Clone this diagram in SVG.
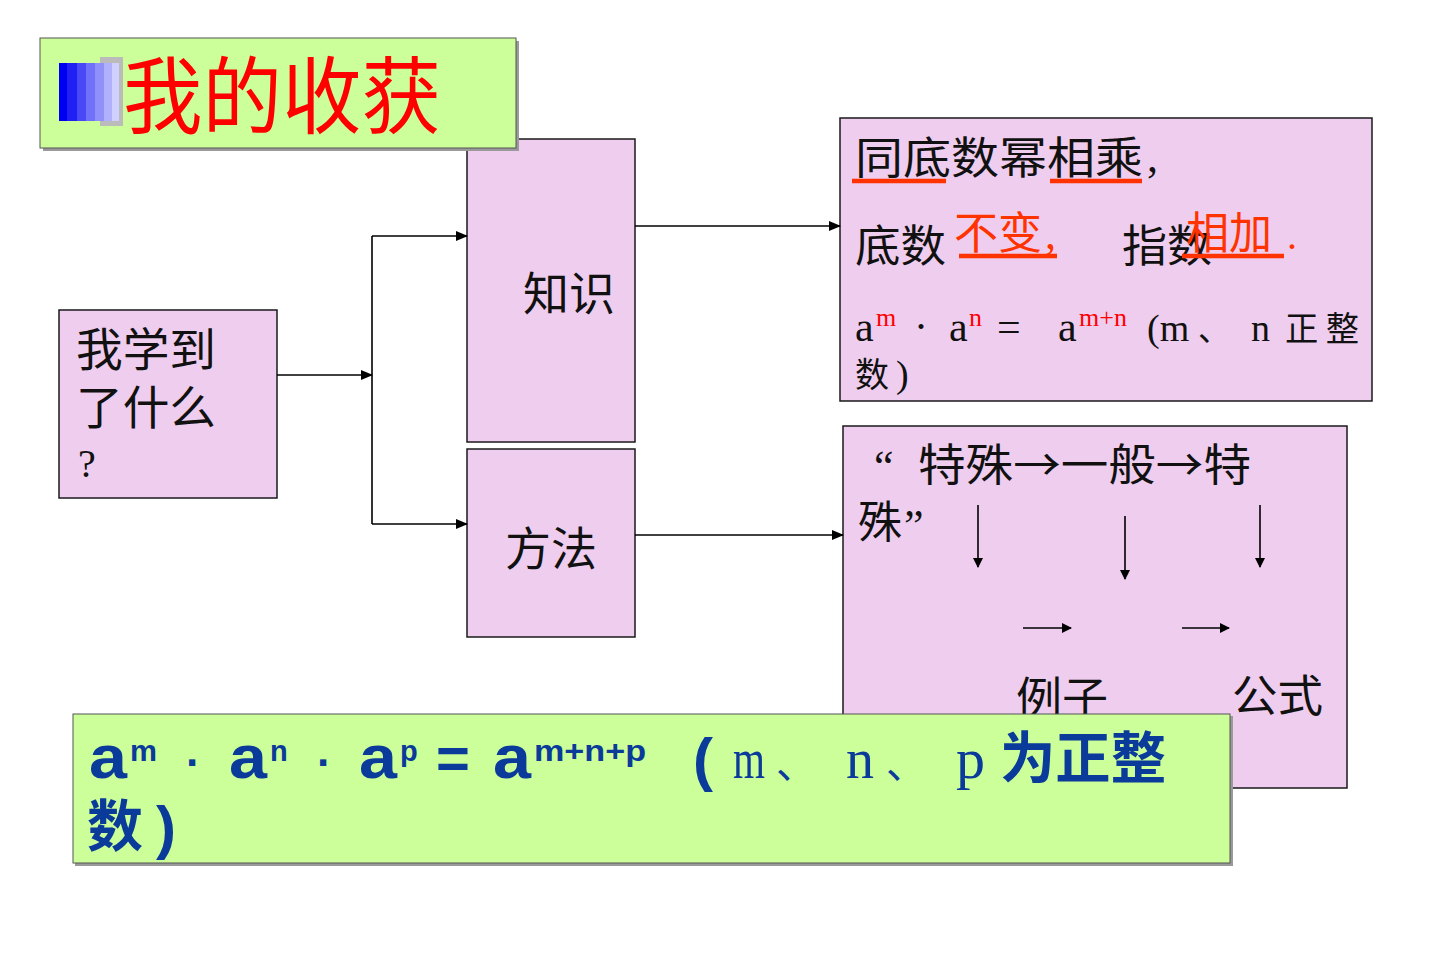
<svg xmlns="http://www.w3.org/2000/svg" width="1440" height="964" viewBox="0 0 1440 964">
<style>
.box{fill:#EFCDEE;stroke:#1a1a1a;stroke-width:1.5}
.green{fill:#CCFF99;stroke:#555;stroke-width:1}
.shadow{fill:#9a9a9a}
.cjk{font-family:"Noto Sans CJK SC",sans-serif;fill:#111}
.ser{font-family:"Liberation Serif","Noto Sans CJK SC",serif;fill:#111}
.red{fill:#FF3300}
.sup{font-family:"Liberation Serif",serif;fill:#FF0000;font-size:26px}
.blue{fill:#0A3A9A}
.bb{font-family:"Liberation Sans",Arial,sans-serif;font-weight:bold;fill:#0A3A9A}
.bm{font-family:"Liberation Serif",serif;fill:#0A3A9A}
.conn line,.conn path{stroke:#000;stroke-width:1.6;fill:none}
.ul{stroke:#FF3300;stroke-width:4.5}
</style>
<defs>
<marker id="ah" markerUnits="userSpaceOnUse" markerWidth="12" markerHeight="10" refX="11" refY="5" orient="auto"><path d="M0,0 L12,5 L0,10 z" fill="#000"/></marker>
<marker id="ah2" markerUnits="userSpaceOnUse" markerWidth="10" markerHeight="12" refX="9" refY="5" orient="auto"><path d="M0,0 L10,5 L0,10 z" fill="#000"/></marker>
<linearGradient id="bg" x1="0" y1="0" x2="1" y2="0">
<stop offset="0" stop-color="#0000F0"/><stop offset="0.14" stop-color="#0000F0"/>
<stop offset="0.14" stop-color="#2020F4"/><stop offset="0.3" stop-color="#2020F4"/>
<stop offset="0.3" stop-color="#4848F6"/><stop offset="0.45" stop-color="#4848F6"/>
<stop offset="0.45" stop-color="#7070F8"/><stop offset="0.6" stop-color="#7070F8"/>
<stop offset="0.6" stop-color="#9090FA"/><stop offset="0.75" stop-color="#9090FA"/>
<stop offset="0.75" stop-color="#B0B0FC"/><stop offset="0.88" stop-color="#B0B0FC"/>
<stop offset="0.88" stop-color="#D0D0FF"/><stop offset="1" stop-color="#D0D0FF"/>
</linearGradient>
</defs>
<rect width="1440" height="964" fill="#fff"/>

<g id="node-learned">
<rect class="box" x="59" y="310" width="218" height="188"/>
<text class="cjk" font-size="46" x="76" y="366" textLength="140" lengthAdjust="spacingAndGlyphs">我学到</text>
<text class="cjk" font-size="46" x="76" y="424" textLength="140" lengthAdjust="spacingAndGlyphs">了什么</text>
<text class="ser" font-size="40" x="78" y="477">?</text>
</g>

<g id="node-knowledge">
<rect class="box" x="467" y="139" width="168" height="303"/>
<text class="cjk" font-size="46" x="523" y="310" textLength="92" lengthAdjust="spacingAndGlyphs">知识</text>
</g>

<g id="node-method">
<rect class="box" x="467" y="449" width="168" height="188"/>
<text class="cjk" font-size="46" x="505" y="565" textLength="92" lengthAdjust="spacingAndGlyphs">方法</text>
</g>

<g id="node-rule">
<rect class="box" x="840" y="118" width="532" height="283"/>
<text class="cjk" font-size="44" x="855" y="174" textLength="288" lengthAdjust="spacingAndGlyphs">同底数幂相乘</text>
<text class="ser" font-size="44" x="1147" y="172">,</text>
<line class="ul" x1="852" y1="181" x2="946" y2="181"/>
<line class="ul" x1="1050" y1="181" x2="1142" y2="181"/>
<text class="cjk" font-size="44" x="855" y="262" textLength="91" lengthAdjust="spacingAndGlyphs">底数</text>
<text class="cjk red" font-size="44" x="954" y="249" textLength="88" lengthAdjust="spacingAndGlyphs">不变</text>
<text class="ser red" font-size="44" x="1045" y="249">,</text>
<line class="ul" x1="959" y1="256" x2="1057" y2="256"/>
<text class="cjk" font-size="44" x="1122" y="262" textLength="90" lengthAdjust="spacingAndGlyphs">指数</text>
<text class="cjk red" font-size="44" x="1186" y="249" textLength="86" lengthAdjust="spacingAndGlyphs">相加</text>
<text class="ser red" font-size="40" x="1287" y="249">.</text>
<line class="ul" x1="1182" y1="256" x2="1284" y2="256"/>
<text class="ser" font-size="42" x="855" y="341">a</text>
<text class="sup" x="876" y="326">m</text>
<text class="ser" font-size="42" x="914" y="341">·</text>
<text class="ser" font-size="42" x="949" y="341">a</text>
<text class="sup" x="969" y="326">n</text>
<text class="ser" font-size="42" x="997" y="341">=</text>
<text class="ser" font-size="42" x="1058" y="341">a</text>
<text class="sup" x="1079" y="326">m+n</text>
<text class="ser" font-size="38" x="1147" y="341">(m</text>
<text class="cjk" font-size="32" x="1198" y="341">、</text>
<text class="ser" font-size="38" x="1251" y="341">n</text>
<text class="cjk" font-size="34" x="1285" y="341" textLength="74" lengthAdjust="spacingAndGlyphs">正 整</text>
<text class="cjk" font-size="34" x="855" y="387">数</text>
<text class="ser" font-size="38" x="896" y="387">)</text>
</g>

<g id="node-process">
<rect class="box" x="843" y="426" width="504" height="362"/>
<text class="ser" font-size="44" x="874" y="481">“</text>
<text class="cjk" font-size="44" x="918" y="481" textLength="333" lengthAdjust="spacingAndGlyphs">特殊→一般→特</text>
<text class="cjk" font-size="44" x="858" y="538">殊</text>
<text class="ser" font-size="44" x="904" y="540">”</text>
<text class="cjk" font-size="44" x="1016" y="714" textLength="92" lengthAdjust="spacingAndGlyphs">例子</text>
<text class="cjk" font-size="44" x="1232" y="712" textLength="91" lengthAdjust="spacingAndGlyphs">公式</text>
</g>

<g id="connectors" class="conn">
<line x1="277" y1="375" x2="372" y2="375" marker-end="url(#ah)"/>
<line x1="372" y1="236" x2="372" y2="524"/>
<line x1="372" y1="236" x2="467" y2="236" marker-end="url(#ah)"/>
<line x1="372" y1="524" x2="467" y2="524" marker-end="url(#ah)"/>
<line x1="635" y1="226" x2="840" y2="226" marker-end="url(#ah)"/>
<line x1="635" y1="535" x2="843" y2="535" marker-end="url(#ah)"/>
<line x1="978" y1="505" x2="978" y2="567" marker-end="url(#ah2)"/>
<line x1="1125" y1="516" x2="1125" y2="579" marker-end="url(#ah2)"/>
<line x1="1260" y1="505" x2="1260" y2="567" marker-end="url(#ah2)"/>
<line x1="1023" y1="628" x2="1071" y2="628" marker-end="url(#ah2)"/>
<line x1="1182" y1="628" x2="1229" y2="628" marker-end="url(#ah2)"/>
</g>

<g id="title">
<rect class="shadow" x="43" y="41" width="476" height="110"/>
<rect class="green" x="40" y="38" width="476" height="110"/>
<rect x="100" y="57" width="23" height="69" fill="#BBBBBB"/>
<rect x="59" y="63" width="60" height="58" fill="url(#bg)"/>
<text font-family="'Noto Sans CJK SC',sans-serif" font-size="84" fill="#FF0000" x="123" y="127" textLength="318" lengthAdjust="spacingAndGlyphs">我的收获</text>
</g>

<g id="node-formula">
<rect class="shadow" x="75" y="716" width="1158" height="150"/>
<rect class="green" x="73" y="714" width="1157" height="149" stroke="#333"/>
<text class="bb" font-size="62" x="89" y="778" textLength="38" lengthAdjust="spacingAndGlyphs">a</text>
<text class="bb" font-size="29" x="130" y="761" textLength="27" lengthAdjust="spacingAndGlyphs">m</text>
<text class="bb" font-size="44" x="186" y="778">·</text>
<text class="bb" font-size="62" x="229" y="778" textLength="38" lengthAdjust="spacingAndGlyphs">a</text>
<text class="bb" font-size="29" x="270" y="761">n</text>
<text class="bb" font-size="44" x="317" y="778">·</text>
<text class="bb" font-size="62" x="359" y="778" textLength="38" lengthAdjust="spacingAndGlyphs">a</text>
<text class="bb" font-size="29" x="400" y="761">p</text>
<text class="bb" font-size="58" x="436" y="778">=</text>
<text class="bb" font-size="62" x="493" y="778" textLength="38" lengthAdjust="spacingAndGlyphs">a</text>
<text class="bb" font-size="29" x="534" y="761" textLength="112" lengthAdjust="spacingAndGlyphs">m+n+p</text>
<text class="bb" font-size="60" x="693" y="780">(</text>
<text class="bm" font-size="58" x="733" y="778" textLength="32" lengthAdjust="spacingAndGlyphs">m</text>
<text class="cjk blue" font-size="40" x="776" y="778">、</text>
<text class="bm" font-size="58" x="846" y="778" textLength="28" lengthAdjust="spacingAndGlyphs">n</text>
<text class="cjk blue" font-size="40" x="886" y="778">、</text>
<text class="bm" font-size="58" x="956" y="778" textLength="29" lengthAdjust="spacingAndGlyphs">p</text>
<text class="cjk blue" font-size="56" font-weight="bold" x="1000" y="778" textLength="166" lengthAdjust="spacingAndGlyphs">为正整</text>
<text class="cjk blue" font-size="56" font-weight="bold" x="87" y="846">数</text>
<text class="bb" font-size="60" x="156" y="848">)</text>
</g>
</svg>
